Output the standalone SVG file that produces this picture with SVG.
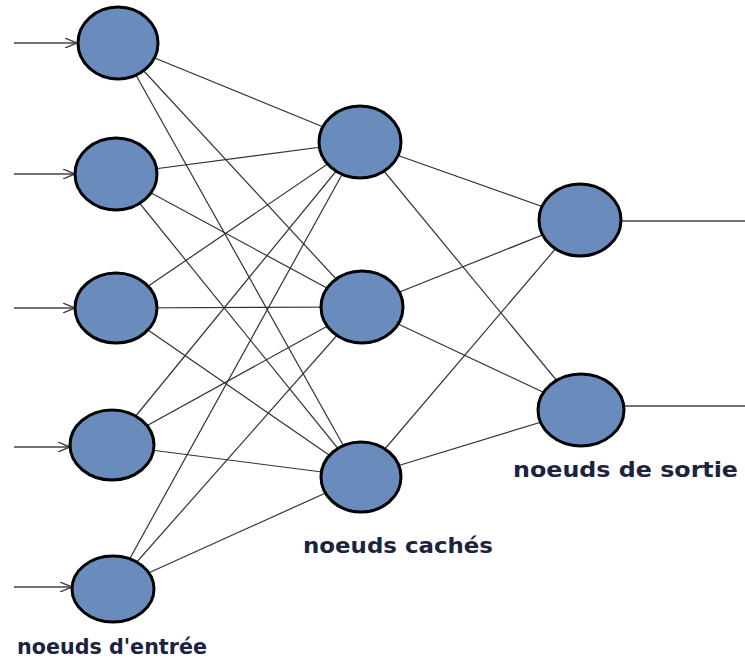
<svg xmlns="http://www.w3.org/2000/svg" width="745" height="659" viewBox="0 0 745 659">
  <style>
    .link { stroke: #333; stroke-width: 1.2; fill: none; }
    .io { stroke: #444; stroke-width: 1.4; fill: none; }
    .node { fill: #6a8cbd; stroke: #000; stroke-width: 3; }
    .label { font-family: "DejaVu Sans", Verdana, sans-serif; font-weight: bold; font-size: 21px; fill: #1c2340; }
  </style>
  <defs>
    <marker id="arrow" viewBox="0 0 12 10" refX="12" refY="5" markerWidth="12" markerHeight="10" markerUnits="userSpaceOnUse" orient="auto">
      <path d="M0,0 L12,5 L0,10" fill="none" stroke="#444" stroke-width="1.4"/>
    </marker>
  </defs>
  <rect width="745" height="659" fill="#fff"/>

  <g id="connectors">
    <!-- input layer to hidden layer -->
    <line class="link" x1="118" y1="43" x2="360" y2="142"/>
    <line class="link" x1="118" y1="43" x2="362" y2="307"/>
    <line class="link" x1="118" y1="43" x2="361" y2="477"/>
    <line class="link" x1="116" y1="174" x2="360" y2="142"/>
    <line class="link" x1="116" y1="174" x2="362" y2="307"/>
    <line class="link" x1="116" y1="174" x2="361" y2="477"/>
    <line class="link" x1="116" y1="308" x2="360" y2="142"/>
    <line class="link" x1="116" y1="308" x2="362" y2="307"/>
    <line class="link" x1="116" y1="308" x2="361" y2="477"/>
    <line class="link" x1="112" y1="445" x2="360" y2="142"/>
    <line class="link" x1="112" y1="445" x2="362" y2="307"/>
    <line class="link" x1="112" y1="445" x2="361" y2="477"/>
    <line class="link" x1="113" y1="589" x2="360" y2="142"/>
    <line class="link" x1="113" y1="589" x2="362" y2="307"/>
    <line class="link" x1="113" y1="589" x2="361" y2="477"/>
    <!-- hidden layer to output layer -->
    <line class="link" x1="360" y1="142" x2="580" y2="220"/>
    <line class="link" x1="360" y1="142" x2="581" y2="410"/>
    <line class="link" x1="362" y1="307" x2="580" y2="220"/>
    <line class="link" x1="362" y1="307" x2="581" y2="410"/>
    <line class="link" x1="361" y1="477" x2="580" y2="220"/>
    <line class="link" x1="361" y1="477" x2="581" y2="410"/>
    <!-- incoming signals -->
    <line class="io" x1="14" y1="43" x2="77" y2="43" marker-end="url(#arrow)"/>
    <line class="io" x1="14" y1="174" x2="75" y2="174" marker-end="url(#arrow)"/>
    <line class="io" x1="14" y1="308" x2="75" y2="308" marker-end="url(#arrow)"/>
    <line class="io" x1="14" y1="447" x2="70" y2="447" marker-end="url(#arrow)"/>
    <line class="io" x1="14" y1="587" x2="72" y2="587" marker-end="url(#arrow)"/>
    <!-- outgoing signals -->
    <line class="io" x1="621" y1="221" x2="745" y2="221"/>
    <line class="io" x1="624" y1="406" x2="745" y2="406"/>
  </g>

  <g id="input-1"><ellipse class="node" cx="118" cy="43" rx="40" ry="36"/></g>
  <g id="input-2"><ellipse class="node" cx="116" cy="174" rx="41" ry="36"/></g>
  <g id="input-3"><ellipse class="node" cx="116" cy="308" rx="41" ry="35"/></g>
  <g id="input-4"><ellipse class="node" cx="112" cy="445" rx="42" ry="35"/></g>
  <g id="input-5"><ellipse class="node" cx="113" cy="589" rx="41" ry="33"/></g>

  <g id="hidden-1"><ellipse class="node" cx="360" cy="142" rx="41" ry="36"/></g>
  <g id="hidden-2"><ellipse class="node" cx="362" cy="307" rx="41" ry="36"/></g>
  <g id="hidden-3"><ellipse class="node" cx="361" cy="477" rx="40" ry="35"/></g>

  <g id="output-1"><ellipse class="node" cx="580" cy="220" rx="41" ry="36"/></g>
  <g id="output-2"><ellipse class="node" cx="581" cy="410" rx="43" ry="36"/></g>

  <g id="labels">
    <text class="label" x="513" y="477" textLength="225" lengthAdjust="spacingAndGlyphs">noeuds de sortie</text>
    <text class="label" x="303" y="553" textLength="190" lengthAdjust="spacingAndGlyphs">noeuds cachés</text>
    <text class="label" x="17" y="654" textLength="190" lengthAdjust="spacingAndGlyphs">noeuds d'entrée</text>
  </g>
</svg>
